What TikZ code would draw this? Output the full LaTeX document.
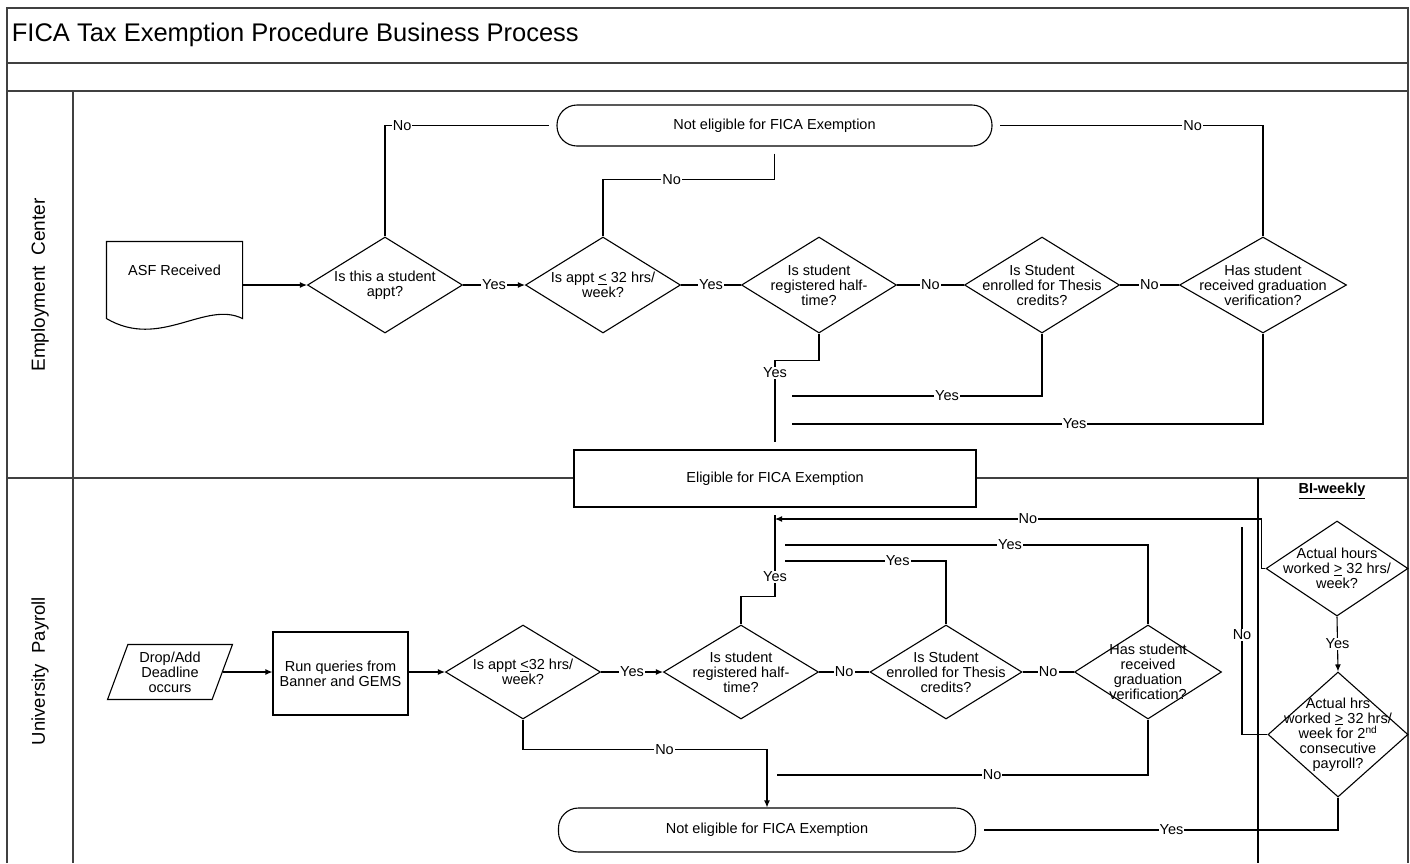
\documentclass[tikz,border=0pt]{standalone}
\usepackage{fontspec}
\setmainfont{Liberation Sans}
\usetikzlibrary{shapes.geometric,arrows.meta}

\begin{document}
\begin{tikzpicture}[x=1pt,y=-1pt,line width=1.1pt,
  txt/.style={font=\fontsize{14.5}{15}\selectfont},
  lbl/.style={txt,fill=white,inner sep=1pt},
  q/.style={diamond,draw,inner sep=0,minimum width=155,minimum height=96,
    label={[txt,align=center]center:#1}},
  term/.style={draw,fill=white,rounded corners=20,minimum width=435,minimum height=41,txt},
  box/.style={draw,fill=white,txt,align=center},
  arr/.style={-{Latex[length=7pt,width=6pt]}}]
\useasboundingbox (0,0) rectangle (1410,863);

% pool, lanes
\draw[line width=1.5pt,black!75] (7,863) -- (7,8) -- (1408,8) -- (1408,863);
\draw[line width=1.5pt,black!75] (7,63) -- (1408,63) (7,91) -- (1408,91)
  (73,91) -- (73,863) (7,478) -- (1408,478);
\draw[line width=2.5pt] (1258,478) -- (1258,863);

\node[anchor=west,font=\fontsize{25.5}{26}\selectfont] (title) at (8,35) {FICA Tax Exemption Procedure Business Process};
\node[rotate=90,font=\fontsize{19}{19}\selectfont] (lane1) at (40,285) {Employment~ Center};
\node[rotate=90,font=\fontsize{18.5}{19}\selectfont] (lane2) at (40,671) {University~ Payroll};
\node[font={\fontsize{14.5}{15}\selectfont\bfseries}] (bw) at (1332,491) {\underline{BI-weekly}};

% Employment Center
\node[term] (n1) at (774.5,125.5) {Not eligible for FICA Exemption};
\node[minimum width=135,minimum height=76,inner sep=0,
  label={[txt,label distance=-38pt]north:ASF Received}] (asf) at (174.5,280) {};
\draw (asf.north west) -- (asf.north east) -- (asf.south east)
  .. controls (205,300) and (160,350) .. (asf.south west) -- cycle;

\node[q={Is this a student\\appt?}] (d1) at (385,285) {};
\node[q={Is appt \underline{<} 32 hrs/\\week?}] (d2) at (603,285) {};
\node[q={Is student\\registered half-\\time?}] (d3) at (819,285) {};
\node[q={Is Student\\enrolled for Thesis\\credits?}] (d4) at (1042,285) {};
\node[q={Has student\\received graduation\\verification?},minimum width=167] (d5) at (1263,285) {};
\node[box,minimum width=402,minimum height=57] (elig) at (775,478.5) {Eligible for FICA Exemption};

\draw[shorten >=7pt] (d1.north) |- (n1.west) node[lbl,pos=0.55]{No};
\draw[shorten <=7pt] (n1.south) -- ++(0,33) -| (d2.north) node[lbl,pos=0.3]{No};
\draw[shorten >=7pt] (d5.north) |- (n1.east) node[lbl,pos=0.63]{No};
\draw[arr] (asf.east |- d1.west) -- (d1.west);
\draw[arr] (d1.east) -- node[lbl]{Yes} (d2.west);
\draw (d2.east) -- node[lbl]{Yes} (d3.west);
\draw (d3.east) -- node[lbl]{No} (d4.west);
\draw (d4.east) -- node[lbl]{No} (d5.west);
\draw[shorten >=7pt] (d3.south) -- ++(0,27) -| (elig.north) node[lbl,pos=0.57]{Yes};
\coordinate (y4) at (792,396);
\coordinate (y5) at (792,424);
\draw (d4.south) |- (y4) node[lbl,pos=0.69]{Yes};
\draw (d5.south) |- (y5) node[lbl,pos=0.7]{Yes};

% University Payroll
\node[trapezium,trapezium left angle=70,trapezium right angle=110,trapezium stretches=true,
  draw,minimum width=125,minimum height=55,inner sep=0,txt,align=center] (drop) at (170,672) {Drop/Add\\Deadline\\occurs};
\node[box,minimum width=135,minimum height=83] (run) at (340.5,673.5) {Run queries from\\Banner and GEMS};
\node[q={Is appt \underline{<}32 hrs/\\week?},minimum height=94] (d6) at (523,672) {};
\node[q={Is student\\registered half-\\time?},minimum height=94] (d7) at (741,672) {};
\node[q={Is Student\\enrolled for Thesis\\credits?},minimum width=152,minimum height=94] (d8) at (946,672) {};
\node[q={Has student\\received\\graduation\\verification?},minimum width=147,minimum height=94] (d9) at (1148,672) {};
\node[q={Actual hours\\worked \underline{>} 32 hrs/\\week?},minimum width=142,minimum height=95] (d10) at (1337,568.5) {};
\node[q={Actual hrs\\worked \underline{>} 32 hrs/\\week for 2\textsuperscript{nd}\\consecutive\\payroll?},
  minimum width=140,minimum height=125] (d11) at (1338,734.5) {};
\node[term,minimum width=417,minimum height=44] (n2) at (767,830) {Not eligible for FICA Exemption};

\coordinate (y7) at (775,515);
\coordinate (y8) at (785,561);
\coordinate (y9) at (785,545);
\coordinate (no10) at (775,519);
\coordinate (no11) at (1242,527);
\coordinate (no9) at (777,775);

\draw[arr] (drop.east) -- (drop.east -| run.west);
\draw[arr] (run.east |- d6.west) -- (d6.west);
\draw[arr] (d6.east) -- node[lbl]{Yes} (d7.west);
\draw (d7.east) -- node[lbl]{No} (d8.west);
\draw (d8.east) -- node[lbl]{No} (d9.west);
\draw (d7.north) -- ++(0,-28) -| (y7) node[lbl,pos=0.62]{Yes};
\draw (d8.north) |- (y8) node[lbl,pos=0.65]{Yes};
\draw (d9.north) |- (y9) node[lbl,pos=0.69]{Yes};
\draw[arr] (d10.west) -- ++(-4,0) |- (no10) node[lbl,pos=0.74]{No};
\draw[arr] (d10.south) -- node[lbl]{Yes} (d11.north);
\draw[shorten >=8pt] (d11.south) |- (n2.east) node[lbl,pos=0.73]{Yes};
\draw (d11.west) -| (no11) node[lbl,pos=0.74]{No};
\draw[arr] (d6.south) -- ++(0,30) -| (n2.north) node[lbl,pos=0.29]{No};
\draw (d9.south) |- (no9) node[lbl,pos=0.71]{No};
\end{tikzpicture}
\end{document}
